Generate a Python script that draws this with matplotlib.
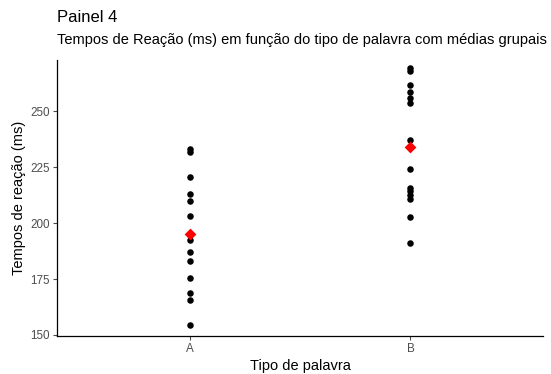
import numpy as np
import matplotlib
matplotlib.use("Agg")
import matplotlib.pyplot as plt

plt.rcParams['font.family'] = ['Liberation Sans', 'DejaVu Sans']

# Reaction times (ms) per word type
tipos = ['A', 'B']
tempos_a = [233.3, 231.8, 220.5, 213.0, 210.0, 203.2, 192.4, 187.2,
            183.0, 175.3, 168.6, 165.5, 154.3]
tempos_b = [269.5, 268.2, 261.6, 258.7, 256.0, 253.9, 237.4, 224.2,
            215.9, 214.2, 212.5, 210.7, 202.8, 190.9]
grupos = [tempos_a, tempos_b]

fig = plt.figure(figsize=(5.51, 3.74), dpi=100)
ax = fig.add_axes([57 / 551, 1 - 336 / 374, (543 - 57) / 551, (336 - 60) / 374])

for i, vals in enumerate(grupos):
    x = np.full(len(vals), i + 1)
    ax.scatter(x, vals, s=22, color='black', zorder=2, linewidths=0)
    # group mean
    ax.scatter([i + 1], [np.mean(vals)], s=36, marker='D', color='red',
               zorder=3, linewidths=0)

ax.set_xlim(0.4, 2.6)
ax.set_ylim(149.5, 273)
ax.set_xticks([1, 2])
ax.set_xticklabels(tipos)
ax.set_yticks([150, 175, 200, 225, 250])

for side in ['top', 'right']:
    ax.spines[side].set_visible(False)
for side in ['left', 'bottom']:
    ax.spines[side].set_color('black')
    ax.spines[side].set_linewidth(0.9)
ax.tick_params(colors='#4d4d4d', labelsize=8.4, length=3, width=0.8, pad=2)

ax.set_xlabel('Tipo de palavra', fontsize=10.5, labelpad=3)
ax.set_ylabel('Tempos de reação (ms)', fontsize=10.5, labelpad=3)

fig.text(57 / 551, 1 - 18 / 374, 'Painel 4', fontsize=12, va='center', ha='left')
fig.text(57 / 551, 1 - 40 / 374,
         'Tempos de Reação (ms) em função do tipo de palavra com médias grupais',
         fontsize=10.5, va='center', ha='left')

fig.savefig('out.png', dpi=100)
